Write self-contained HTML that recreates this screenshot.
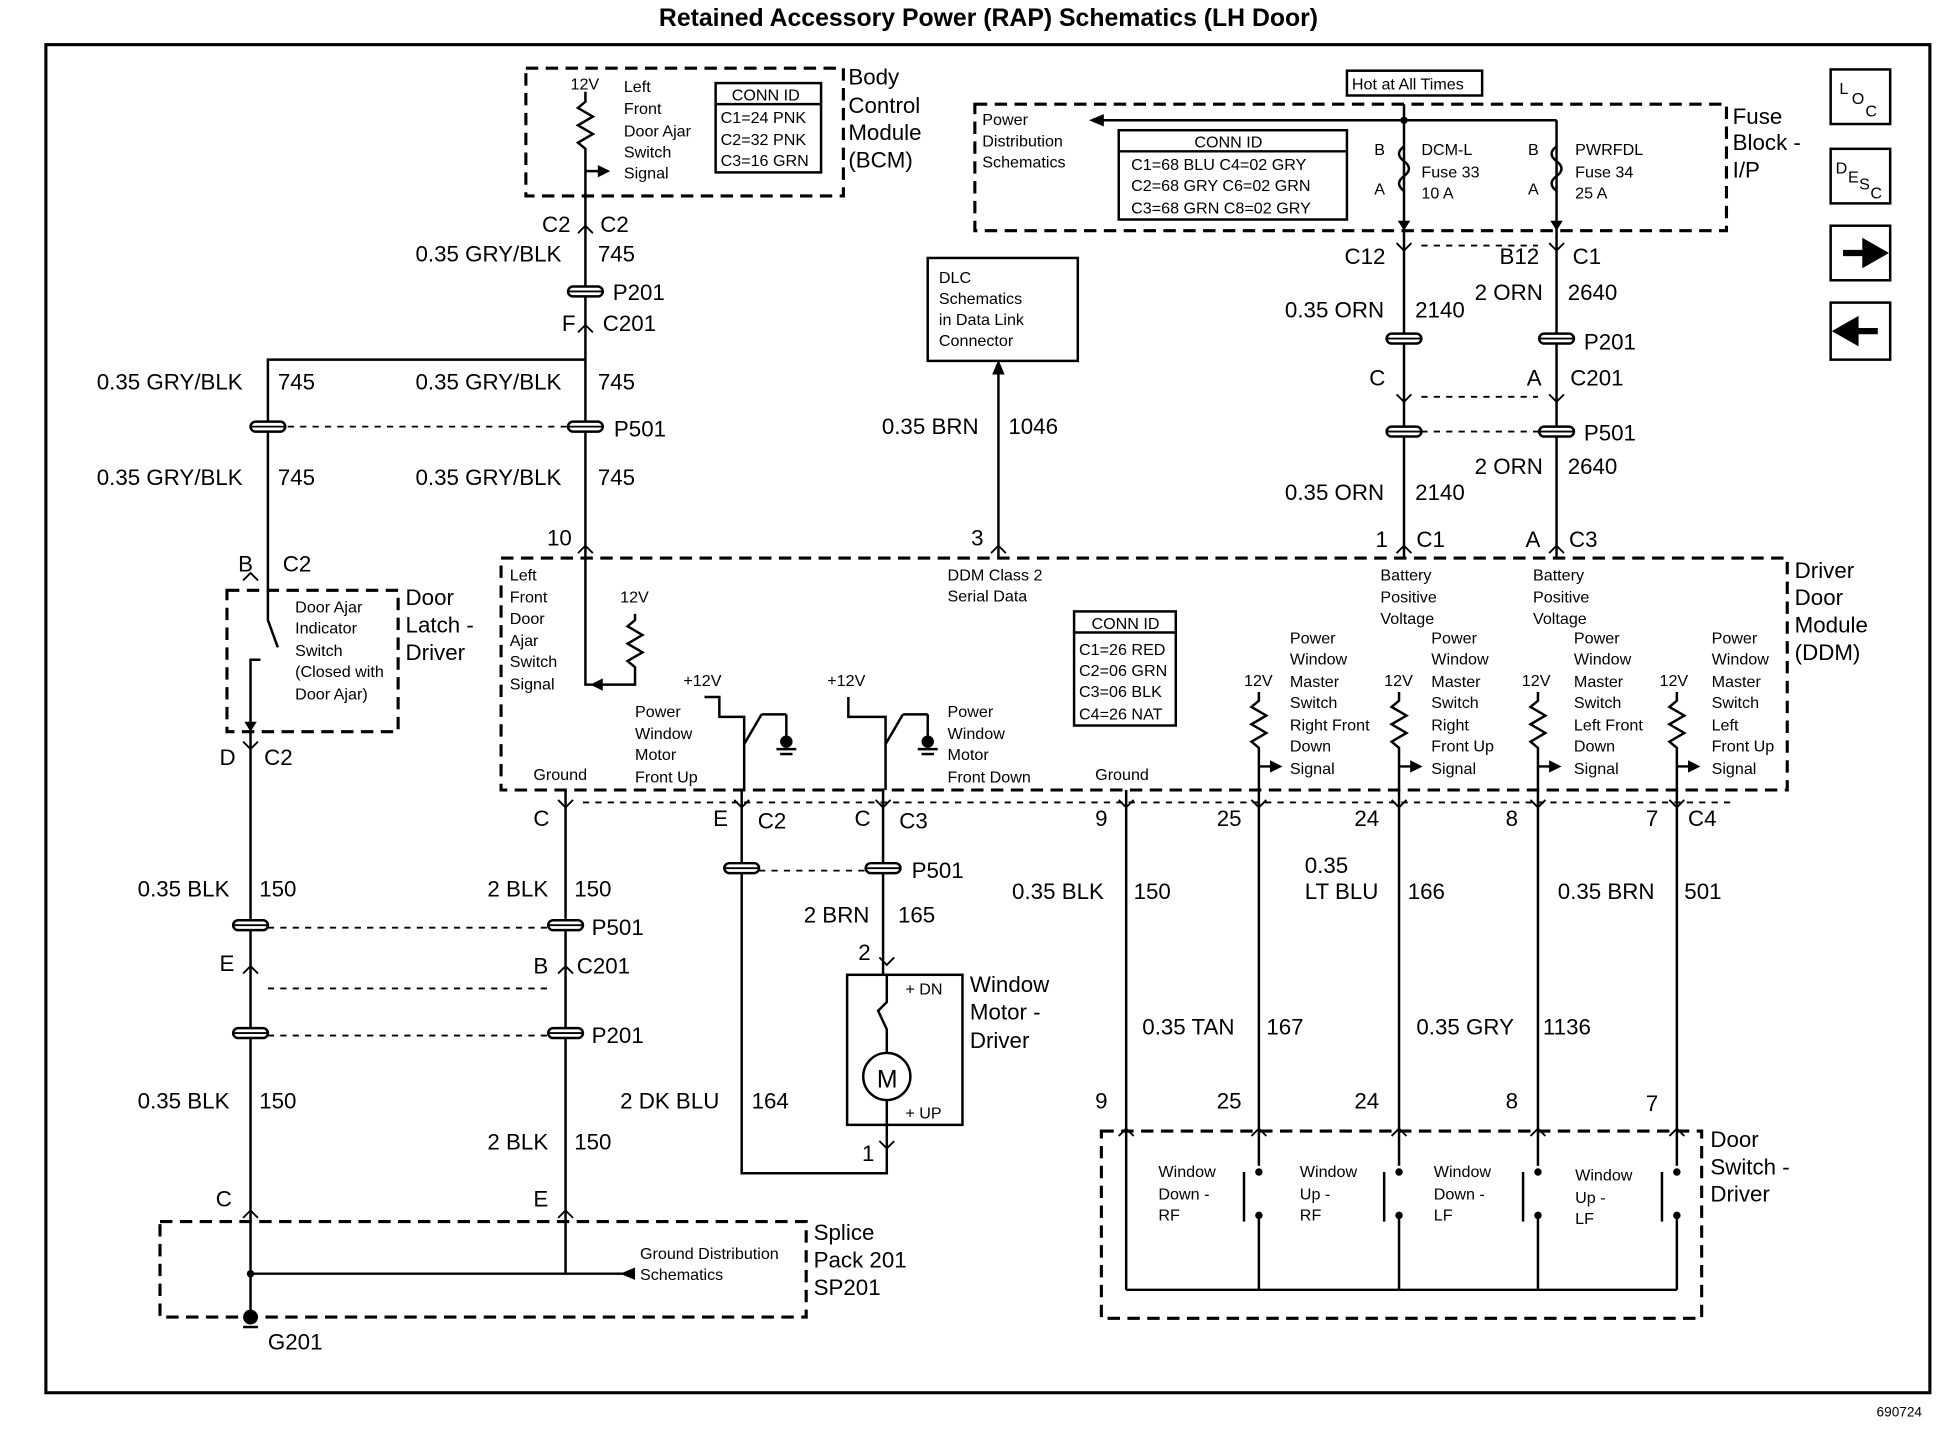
<!DOCTYPE html>
<html><head><meta charset="utf-8"><style>
html,body{margin:0;padding:0;background:#fff;}
svg{display:block}
text{font-family:"Liberation Sans",sans-serif;fill:#000}
.b{font-size:18px}
.s{font-size:13px}
.m{font-size:19px}
</style></head><body>
<svg width="1946" height="1456" viewBox="0 0 1569 1174" preserveAspectRatio="none" xmlns="http://www.w3.org/2000/svg">
<defs>
<g id="cn"><rect x="-14" y="-4" width="28" height="8" rx="4" fill="#fff" stroke="#000" stroke-width="2"/><line x1="-14" y1="0" x2="14" y2="0" stroke="#000" stroke-width="1.5"/></g>
</defs>
<text x="797" y="21" text-anchor="middle" font-size="20" font-weight="bold">Retained Accessory Power (RAP) Schematics (LH Door)</text>
<rect x="37" y="36" width="1519" height="1087" fill="none" stroke="#000" stroke-width="2.5"/>
<text x="1513" y="1142" font-size="11">690724</text>
<g fill="none" stroke="#000" stroke-width="2.5" stroke-dasharray="10,6">
<rect x="424" y="55" width="256" height="103"/>
<rect x="786" y="84" width="606" height="102"/>
<rect x="404" y="450" width="1037" height="187"/>
<rect x="183" y="476" width="138" height="114"/>
<rect x="129" y="985" width="521" height="77"/>
<rect x="888" y="912" width="484" height="151"/>
</g>
<g fill="none" stroke="#000" stroke-width="2">
<rect x="577" y="67" width="85" height="72"/><line x1="577" y1="84" x2="662" y2="84"/>
<rect x="1086" y="57" width="109" height="20"/>
<rect x="748" y="208" width="121" height="83"/>
<rect x="902" y="105" width="184" height="72"/><line x1="902" y1="122" x2="1086" y2="122"/>
<rect x="866" y="493" width="82" height="92"/><line x1="866" y1="510" x2="948" y2="510"/>
<rect x="683" y="786" width="93" height="121"/>
<circle cx="715" cy="868" r="19"/>
<rect x="1476" y="56" width="48" height="44"/><rect x="1476" y="120" width="48" height="44"/>
<rect x="1476" y="182" width="48" height="44"/><rect x="1476" y="244" width="48" height="46"/>
</g>
<g stroke="#000" stroke-width="2" fill="none">
<polyline points="472,158 472,450"/>
<polyline points="472,290 216,290 216,476"/>
<line x1="202" y1="590" x2="202" y2="1062"/>
<line x1="456" y1="637" x2="456" y2="1027"/>
<line x1="202" y1="1027" x2="510" y2="1027"/>
<line x1="805" y1="293" x2="805" y2="450"/>
<line x1="1132" y1="84" x2="1132" y2="450"/>
<line x1="1255" y1="97" x2="1255" y2="450"/>
<line x1="885" y1="97" x2="1255" y2="97"/>
<polyline points="598,637 598,946 715,946 715,907"/>
<line x1="712" y1="637" x2="712" y2="786"/>
<line x1="908" y1="637" x2="908" y2="912"/>
<line x1="1015" y1="637" x2="1015" y2="912"/>
<line x1="1128" y1="637" x2="1128" y2="912"/>
<line x1="1240" y1="637" x2="1240" y2="912"/>
<line x1="1352" y1="637" x2="1352" y2="912"/>
<g stroke-dasharray="5,5" stroke-width="1.5">
<line x1="232" y1="344" x2="458" y2="344"/>
<line x1="1146" y1="198" x2="1240" y2="198"/>
<line x1="1146" y1="320" x2="1240" y2="320"/>
<line x1="1146" y1="348" x2="1240" y2="348"/>
<line x1="216" y1="748" x2="442" y2="748"/>
<line x1="216" y1="797" x2="442" y2="797"/>
<line x1="216" y1="835" x2="442" y2="835"/>
<line x1="612" y1="702" x2="698" y2="702"/>
<line x1="470" y1="647" x2="1400" y2="647"/>
</g>
<polyline points="472,450 472,552 476,552"/>
<polyline points="512,495 512,500 506,505 518,512 506,519 518,526 506,533 512,538 512,552 476,552"/>
<polyline points="568,562 580,562 580,578 600,578 600,637"/>
<line x1="600" y1="600" x2="614" y2="576"/><line x1="614" y1="576" x2="634" y2="576"/><line x1="634" y1="576" x2="634" y2="598"/>
<polyline points="684,562 684,578 714,578 714,637"/>
<line x1="714" y1="600" x2="728" y2="576"/><line x1="728" y1="576" x2="748" y2="576"/><line x1="748" y1="576" x2="748" y2="598"/>
<polyline points="1015,558 1015,565 1009,570 1021,577 1009,584 1021,591 1009,598 1015,603 1015,637"/><line x1="1015" y1="618" x2="1030" y2="618"/>
<polyline points="1128,558 1128,565 1122,570 1134,577 1122,584 1134,591 1122,598 1128,603 1128,637"/><line x1="1128" y1="618" x2="1143" y2="618"/>
<polyline points="1240,558 1240,565 1234,570 1246,577 1234,584 1246,591 1234,598 1240,603 1240,637"/><line x1="1240" y1="618" x2="1255" y2="618"/>
<polyline points="1352,558 1352,565 1346,570 1358,577 1346,584 1358,591 1346,598 1352,603 1352,637"/><line x1="1352" y1="618" x2="1367" y2="618"/>
<polyline points="472,74 472,82 466,87 478,94 466,101 478,108 466,115 472,120 472,158"/>
<line x1="472" y1="138" x2="490" y2="138"/>
<polyline points="216,476 216,500 224,522"/>
<polyline points="210,532 202,532 202,590"/>
<path d="M1132,118 q-8,6 0,12 q8,6 0,12 q-8,6 0,12"/>
<path d="M1255,118 q-8,6 0,12 q8,6 0,12 q-8,6 0,12"/>
<polyline points="715,786 715,808 708,815 715,830 715,849"/>
<line x1="715" y1="887" x2="715" y2="907"/>
<line x1="908" y1="912" x2="908" y2="1040"/>
<line x1="908" y1="1040" x2="1352" y2="1040"/>
<line x1="1015" y1="912" x2="1015" y2="940"/><line x1="1015" y1="980" x2="1015" y2="1040"/><line x1="1003" y1="945" x2="1003" y2="985"/>
<line x1="1128" y1="912" x2="1128" y2="940"/><line x1="1128" y1="980" x2="1128" y2="1040"/><line x1="1116" y1="945" x2="1116" y2="985"/>
<line x1="1240" y1="912" x2="1240" y2="940"/><line x1="1240" y1="980" x2="1240" y2="1040"/><line x1="1228" y1="945" x2="1228" y2="985"/>
<line x1="1352" y1="912" x2="1352" y2="940"/><line x1="1352" y1="980" x2="1352" y2="1040"/><line x1="1340" y1="945" x2="1340" y2="985"/>
<line x1="626" y1="604" x2="642" y2="604"/><line x1="629" y1="608" x2="639" y2="608"/>
<line x1="740" y1="604" x2="756" y2="604"/><line x1="743" y1="608" x2="753" y2="608"/>
<line x1="196" y1="1070" x2="208" y2="1070"/>
</g>
<g fill="#000">
<circle cx="634" cy="598" r="5"/><circle cx="748" cy="598" r="5"/>
<circle cx="202" cy="1062" r="6"/><circle cx="202" cy="1027" r="3"/>
<circle cx="1132" cy="97" r="3"/>
<path d="M805,290 l-5,12 h10z"/>
<path d="M878,97 l12,-5 v10z"/>
<path d="M500,1027 l12,-5 v10z"/>
<path d="M492,138 l-10,-5 v10z"/>
<path d="M1034,618 l-10,-5 v10z"/><path d="M1147,618 l-10,-5 v10z"/><path d="M1259,618 l-10,-5 v10z"/><path d="M1371,618 l-10,-5 v10z"/>
<path d="M1132,186 l-5,-8 h10z"/><path d="M1255,186 l-5,-8 h10z"/>
<path d="M202,590 l-5,-8 h10z"/><path d="M476,552 l10,-5 v10z"/>
<circle cx="1015" cy="945" r="3"/><circle cx="1015" cy="980" r="3"/><circle cx="1128" cy="945" r="3"/><circle cx="1128" cy="980" r="3"/>
<circle cx="1240" cy="945" r="3"/><circle cx="1240" cy="980" r="3"/><circle cx="1352" cy="945" r="3"/><circle cx="1352" cy="980" r="3"/>
</g>
<g fill="none" stroke="#000" stroke-width="1.5">
<path d="M466,188 l6,-6 l6,6"/><path d="M466,268 l6,-6 l6,6"/><path d="M466,446 l6,-6 l6,6"/>
<path d="M196,468 l6,-6 l6,6"/><path d="M196,598 l6,6 l6,-6"/><path d="M196,785 l6,-6 l6,6"/><path d="M196,982 l6,-6 l6,6"/>
<path d="M450,645 l6,6 l6,-6"/><path d="M450,785 l6,-6 l6,6"/><path d="M450,982 l6,-6 l6,6"/>
<path d="M592,645 l6,6 l6,-6"/><path d="M706,645 l6,6 l6,-6"/>
<path d="M799,446 l6,-6 l6,6"/><path d="M1126,446 l6,-6 l6,6"/><path d="M1249,446 l6,-6 l6,6"/>
<path d="M1126,196 l6,6 l6,-6"/><path d="M1249,196 l6,6 l6,-6"/><path d="M1126,318 l6,6 l6,-6"/><path d="M1249,318 l6,6 l6,-6"/>
<path d="M902,645 l6,6 l6,-6"/><path d="M1009,645 l6,6 l6,-6"/><path d="M1122,645 l6,6 l6,-6"/><path d="M1234,645 l6,6 l6,-6"/><path d="M1346,645 l6,6 l6,-6"/>
<path d="M902,916 l6,-6 l6,6"/><path d="M1009,916 l6,-6 l6,6"/><path d="M1122,916 l6,-6 l6,6"/><path d="M1234,916 l6,-6 l6,6"/><path d="M1346,916 l6,-6 l6,6"/>
<path d="M709,772 l6,6 l6,-6"/><path d="M709,920 l6,6 l6,-6"/>
</g>
<use href="#cn" x="472" y="235"/><use href="#cn" x="472" y="344"/><use href="#cn" x="216" y="344"/>
<use href="#cn" x="1132" y="273"/><use href="#cn" x="1255" y="273"/><use href="#cn" x="1132" y="348"/><use href="#cn" x="1255" y="348"/>
<use href="#cn" x="202" y="746"/><use href="#cn" x="456" y="746"/><use href="#cn" x="202" y="833"/><use href="#cn" x="456" y="833"/>
<use href="#cn" x="598" y="700"/><use href="#cn" x="712" y="700"/>
<g class="b">
<text x="684" y="68">Body</text><text x="684" y="91">Control</text><text x="684" y="113">Module</text><text x="684" y="135">(BCM)</text>
<text x="1397" y="100">Fuse</text><text x="1397" y="121">Block -</text><text x="1397" y="143">I/P</text>
<text x="1447" y="466">Driver</text><text x="1447" y="488">Door</text><text x="1447" y="510">Module</text><text x="1447" y="532">(DDM)</text>
<text x="327" y="488">Door</text><text x="327" y="510">Latch -</text><text x="327" y="532">Driver</text>
<text x="782" y="800">Window</text><text x="782" y="822">Motor -</text><text x="782" y="845">Driver</text>
<text x="1379" y="925">Door</text><text x="1379" y="947">Switch -</text><text x="1379" y="969">Driver</text>
<text x="656" y="1000">Splice</text><text x="656" y="1022">Pack 201</text><text x="656" y="1044">SP201</text>
<text x="216" y="1088">G201</text>
<text x="437" y="187">C2</text><text x="484" y="187">C2</text>
<text x="335" y="211">0.35 GRY/BLK</text><text x="482" y="211">745</text>
<text x="494" y="242">P201</text><text x="453" y="267">F</text><text x="486" y="267">C201</text>
<text x="78" y="314">0.35 GRY/BLK</text><text x="224" y="314">745</text>
<text x="335" y="314">0.35 GRY/BLK</text><text x="482" y="314">745</text>
<text x="495" y="352">P501</text>
<text x="78" y="391">0.35 GRY/BLK</text><text x="224" y="391">745</text>
<text x="335" y="391">0.35 GRY/BLK</text><text x="482" y="391">745</text>
<text x="441" y="440">10</text><text x="192" y="461">B</text><text x="228" y="461">C2</text>
<text x="177" y="617">D</text><text x="213" y="617">C2</text>
<text x="711" y="350">0.35 BRN</text><text x="813" y="350">1046</text><text x="783" y="440">3</text>
<text x="1084" y="213">C12</text><text x="1209" y="213">B12</text><text x="1268" y="213">C1</text>
<text x="1036" y="256">0.35 ORN</text><text x="1141" y="256">2140</text><text x="1189" y="242">2 ORN</text><text x="1264" y="242">2640</text>
<text x="1277" y="282">P201</text><text x="1104" y="311">C</text><text x="1231" y="311">A</text><text x="1266" y="311">C201</text>
<text x="1277" y="355">P501</text>
<text x="1189" y="382">2 ORN</text><text x="1264" y="382">2640</text>
<text x="1036" y="403">0.35 ORN</text><text x="1141" y="403">2140</text>
<text x="1109" y="441">1</text><text x="1142" y="441">C1</text><text x="1230" y="441">A</text><text x="1265" y="441">C3</text>
<text x="430" y="666">C</text><text x="575" y="666">E</text><text x="611" y="668">C2</text><text x="689" y="666">C</text><text x="725" y="668">C3</text>
<text x="735" y="708">P501</text><text x="648" y="744">2 BRN</text><text x="724" y="744">165</text><text x="692" y="774">2</text>
<text x="111" y="723">0.35 BLK</text><text x="209" y="723">150</text><text x="393" y="723">2 BLK</text><text x="463" y="723">150</text>
<text x="477" y="754">P501</text><text x="177" y="783">E</text><text x="430" y="785">B</text><text x="465" y="785">C201</text>
<text x="477" y="841">P201</text>
<text x="111" y="894">0.35 BLK</text><text x="209" y="894">150</text><text x="500" y="894">2 DK BLU</text><text x="606" y="894">164</text>
<text x="393" y="927">2 BLK</text><text x="463" y="927">150</text><text x="695" y="936">1</text>
<text x="174" y="973">C</text><text x="430" y="973">E</text>
<text x="883" y="666">9</text><text x="981" y="666">25</text><text x="1092" y="666">24</text><text x="1214" y="666">8</text><text x="1327" y="666">7</text><text x="1361" y="666">C4</text>
<text x="816" y="725">0.35 BLK</text><text x="914" y="725">150</text>
<text x="1052" y="704">0.35</text><text x="1052" y="725">LT BLU</text><text x="1135" y="725">166</text>
<text x="1256" y="725">0.35 BRN</text><text x="1358" y="725">501</text>
<text x="921" y="834">0.35 TAN</text><text x="1021" y="834">167</text><text x="1142" y="834">0.35 GRY</text><text x="1244" y="834">1136</text>
<text x="883" y="894">9</text><text x="981" y="894">25</text><text x="1092" y="894">24</text><text x="1214" y="894">8</text><text x="1327" y="896">7</text>
<text x="707" y="877" font-size="20">M</text>
</g>
<g class="s">
<text x="460" y="72">12V</text><text x="503" y="74">Left</text><text x="503" y="92">Front</text><text x="503" y="110">Door Ajar</text><text x="503" y="127">Switch</text><text x="503" y="144">Signal</text>
<text x="590" y="81">CONN ID</text><text x="581" y="99">C1=24 PNK</text><text x="581" y="117">C2=32 PNK</text><text x="581" y="134">C3=16 GRN</text>
<text x="1090" y="72">Hot at All Times</text>
<text x="792" y="101">Power</text><text x="792" y="118">Distribution</text><text x="792" y="135">Schematics</text>
<text x="963" y="119">CONN ID</text><text x="912" y="137">C1=68 BLU  C4=02 GRY</text><text x="912" y="154">C2=68 GRY  C6=02 GRN</text><text x="912" y="172">C3=68 GRN  C8=02 GRY</text>
<text x="1108" y="125">B</text><text x="1108" y="157">A</text><text x="1146" y="125">DCM-L</text><text x="1146" y="143">Fuse 33</text><text x="1146" y="160">10 A</text>
<text x="1232" y="125">B</text><text x="1232" y="157">A</text><text x="1270" y="125">PWRFDL</text><text x="1270" y="143">Fuse 34</text><text x="1270" y="160">25 A</text>
<text x="757" y="228">DLC</text><text x="757" y="245">Schematics</text><text x="757" y="262">in Data Link</text><text x="757" y="279">Connector</text>
<text x="238" y="494">Door Ajar</text><text x="238" y="511">Indicator</text><text x="238" y="529">Switch</text><text x="238" y="546">(Closed with</text><text x="238" y="564">Door Ajar)</text>
<text x="411" y="468">Left</text><text x="411" y="486">Front</text><text x="411" y="503">Door</text><text x="411" y="521">Ajar</text><text x="411" y="538">Switch</text><text x="411" y="556">Signal</text>
<text x="500" y="486">12V</text>
<text x="764" y="468">DDM Class 2</text><text x="764" y="485">Serial Data</text>
<text x="880" y="507">CONN ID</text><text x="870" y="528">C1=26 RED</text><text x="870" y="545">C2=06 GRN</text><text x="870" y="562">C3=06 BLK</text><text x="870" y="580">C4=26 NAT</text>
<text x="551" y="553">+12V</text><text x="667" y="553">+12V</text>
<text x="512" y="578">Power</text><text x="512" y="596">Window</text><text x="512" y="613">Motor</text><text x="512" y="631">Front Up</text>
<text x="764" y="578">Power</text><text x="764" y="596">Window</text><text x="764" y="613">Motor</text><text x="764" y="631">Front Down</text>
<text x="430" y="629">Ground</text><text x="883" y="629">Ground</text>
<text x="1113" y="468">Battery</text><text x="1113" y="486">Positive</text><text x="1113" y="503">Voltage</text>
<text x="1236" y="468">Battery</text><text x="1236" y="486">Positive</text><text x="1236" y="503">Voltage</text>
<text x="1040" y="519">Power</text><text x="1040" y="536">Window</text><text x="1040" y="554">Master</text><text x="1040" y="571">Switch</text><text x="1040" y="589">Right Front</text><text x="1040" y="606">Down</text><text x="1040" y="624">Signal</text>
<text x="1154" y="519">Power</text><text x="1154" y="536">Window</text><text x="1154" y="554">Master</text><text x="1154" y="571">Switch</text><text x="1154" y="589">Right</text><text x="1154" y="606">Front Up</text><text x="1154" y="624">Signal</text>
<text x="1269" y="519">Power</text><text x="1269" y="536">Window</text><text x="1269" y="554">Master</text><text x="1269" y="571">Switch</text><text x="1269" y="589">Left Front</text><text x="1269" y="606">Down</text><text x="1269" y="624">Signal</text>
<text x="1380" y="519">Power</text><text x="1380" y="536">Window</text><text x="1380" y="554">Master</text><text x="1380" y="571">Switch</text><text x="1380" y="589">Left</text><text x="1380" y="606">Front Up</text><text x="1380" y="624">Signal</text>
<text x="1003" y="553">12V</text><text x="1116" y="553">12V</text><text x="1227" y="553">12V</text><text x="1338" y="553">12V</text>
<text x="730" y="802">+ DN</text><text x="730" y="902">+ UP</text>
<text x="516" y="1015">Ground Distribution</text><text x="516" y="1032">Schematics</text>
<text x="934" y="949">Window</text><text x="934" y="967">Down -</text><text x="934" y="984">RF</text>
<text x="1048" y="949">Window</text><text x="1048" y="967">Up -</text><text x="1048" y="984">RF</text>
<text x="1156" y="949">Window</text><text x="1156" y="967">Down -</text><text x="1156" y="984">LF</text>
<text x="1270" y="952">Window</text><text x="1270" y="970">Up -</text><text x="1270" y="987">LF</text>
<text x="1483" y="76">L</text><text x="1493" y="84">O</text><text x="1504" y="94">C</text>
<text x="1480" y="140">D</text><text x="1490" y="147">E</text><text x="1499" y="153">S</text><text x="1508" y="160">C</text>
</g>
<path d="M1486,204 h18 v-8 l14,8 l-14,8 v-8" fill="#000" stroke="#000" stroke-width="5"/>
<path d="M1514,267 h-18 v-8 l-14,8 l14,8 v-8" fill="#000" stroke="#000" stroke-width="5"/>
</svg>
</body></html>
